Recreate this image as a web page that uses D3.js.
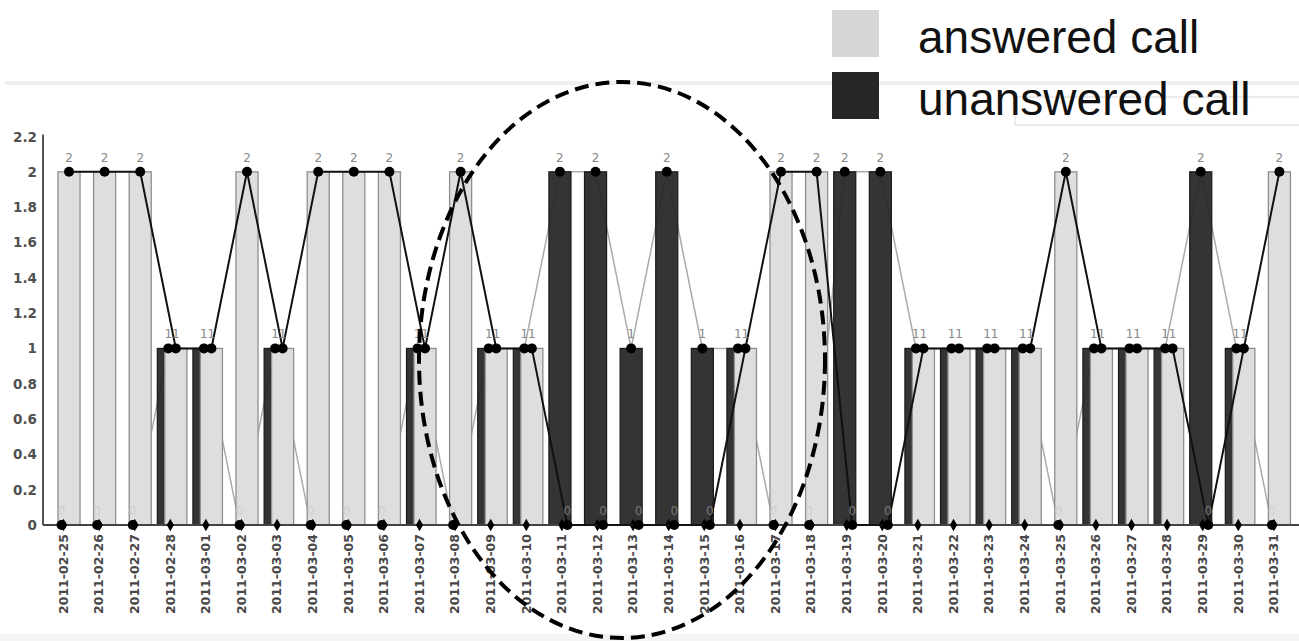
<!DOCTYPE html>
<html><head><meta charset="utf-8">
<script src="https://cdn.jsdelivr.net/npm/d3@7"></script>
<style>html,body{margin:0;padding:0;background:#fff;overflow:hidden}</style>
</head><body>
<svg id="chart" width="1299" height="641"></svg>
<script>
const dates = ["2011-02-25","2011-02-26","2011-02-27","2011-02-28","2011-03-01","2011-03-02","2011-03-03","2011-03-04","2011-03-05","2011-03-06","2011-03-07","2011-03-08","2011-03-09","2011-03-10","2011-03-11","2011-03-12","2011-03-13","2011-03-14","2011-03-15","2011-03-16","2011-03-17","2011-03-18","2011-03-19","2011-03-20","2011-03-21","2011-03-22","2011-03-23","2011-03-24","2011-03-25","2011-03-26","2011-03-27","2011-03-28","2011-03-29","2011-03-30","2011-03-31"];
const answered   = [2,2,2,1,1,2,1,2,2,2,1,2,1,1,0,0,0,0,0,1,2,2,0,0,1,1,1,1,2,1,1,1,0,1,2];
const unanswered = [0,0,0,1,1,0,1,0,0,0,1,0,1,1,2,2,1,2,1,1,0,0,2,2,1,1,1,1,0,1,1,1,2,1,0];
const yTicks = [0,0.2,0.4,0.6,0.8,1,1.2,1.4,1.6,1.8,2,2.2];
const yTickLabels = ["0","0.2","0.4","0.6","0.8","1","1.2","1.4","1.6","1.8","2","2.2"];
const legendLabels = ["answered call","unanswered call"];

const svg = d3.select("#chart");
const W = 1299, H = 641;

// background decorations
svg.append("rect").attr("x",5).attr("y",81).attr("width",W-5).attr("height",4).attr("fill","#efefef");
svg.append("rect").attr("x",0).attr("y",634).attr("width",W).attr("height",7).attr("fill","#f4f4f4");
svg.append("rect").attr("x",1015).attr("y",97).attr("width",300).attr("height",28)
   .attr("fill","none").attr("stroke","#e6e6e6").attr("stroke-width",1.5);

const x = d3.scaleBand().domain(dates).range([45.7, 45.7 + 35.6*dates.length]).paddingInner(0).paddingOuter(0);
const y = d3.scaleLinear().domain([0, 2.2]).range([525, 136.5]);
const bw = x.bandwidth();
const cx = d => x(d) + bw/2;
const barW = bw*0.62;
const offA = bw*0.155;
const offU = bw*0.365;
const dotA = d => cx(d) - offA + barW/2;
const dotU = d => cx(d) - offU + barW/2;

const rows = dates.map((d,i)=>({date:d, a:answered[i], u:unanswered[i]}));

// y axis labels
svg.append("g").selectAll("text").data(yTicks).join("text")
  .attr("x",37).attr("y",v=>y(v)+5).attr("text-anchor","end")
  .attr("font-family","DejaVu Sans").attr("font-weight","bold").attr("font-size",13.5)
  .attr("fill","#505050").text((v,i)=>yTickLabels[i]);
svg.append("line").attr("x1",43).attr("x2",43).attr("y1",y(2.2)-2).attr("y2",y(0))
  .attr("stroke","#555").attr("stroke-width",2);

// unanswered line (beneath bars)
const lineU = d3.line().x(r=>dotU(r.date)).y(r=>y(r.u));
svg.append("path").datum(rows).attr("d",lineU).attr("fill","none")
  .attr("stroke","#ababab").attr("stroke-width",1.5);

// unanswered bars
svg.append("g").selectAll("rect").data(rows.filter(r=>r.u>0)).join("rect")
  .attr("x",r=>cx(r.date)-offU).attr("width",barW)
  .attr("y",r=>y(r.u)).attr("height",r=>y(0)-y(r.u))
  .attr("fill","#252525").attr("fill-opacity",0.93)
  .attr("stroke","#1a1a1a").attr("stroke-width",1.2);

// answered bars
svg.append("g").selectAll("rect").data(rows.filter(r=>r.a>0)).join("rect")
  .attr("x",r=>cx(r.date)-offA).attr("width",barW)
  .attr("y",r=>y(r.a)).attr("height",r=>y(0)-y(r.a))
  .attr("fill","#dedede")
  .attr("stroke","#8f8f8f").attr("stroke-width",1.3);

// x axis
svg.append("line").attr("x1",43).attr("x2",W).attr("y1",y(0)).attr("y2",y(0))
  .attr("stroke","#444").attr("stroke-width",2);
const xAxis = d3.axisBottom(x).tickSize(0).tickPadding(0);
const gx = svg.append("g").attr("transform",`translate(0,${y(0)})`).call(xAxis);
gx.select(".domain").remove();
gx.selectAll(".tick text")
  .attr("transform","rotate(-90)").attr("x",-9).attr("y",0).attr("dy","0.35em")
  .attr("text-anchor","end").attr("font-family","DejaVu Sans").attr("font-weight","bold")
  .attr("font-size",12.5).attr("fill","#484848");
gx.selectAll(".tick").append("path").attr("d",d3.symbol(d3.symbolDiamond,45)).attr("fill","#000");

// answered line
const lineA = d3.line().x(r=>dotA(r.date)).y(r=>y(r.a));
svg.append("path").datum(rows).attr("d",lineA).attr("fill","none")
  .attr("stroke","#111").attr("stroke-width",2);

// dots
svg.append("g").selectAll("circle").data(rows).join("circle")
  .attr("cx",r=>dotU(r.date)).attr("cy",r=>y(r.u)).attr("r",5).attr("fill","#000");
svg.append("g").selectAll("circle").data(rows).join("circle")
  .attr("cx",r=>dotA(r.date)).attr("cy",r=>y(r.a)).attr("r",5).attr("fill","#000");

// value labels
const lab = svg.append("g").attr("font-family","DejaVu Sans").attr("font-size",12).attr("text-anchor","middle");
lab.selectAll("text.u").data(rows).join("text").attr("class","u")
  .attr("x",r=>dotU(r.date)).attr("y",r=>y(r.u)-10)
  .attr("fill",r=>r.u===0?"#cfcfcf":"#888").text(r=>r.u);
lab.selectAll("text.a").data(rows).join("text").attr("class","a")
  .attr("x",r=>dotA(r.date)).attr("y",r=>y(r.a)-10)
  .attr("fill",r=>r.a===0?"#7a7a7a":"#888").text(r=>r.a);

// legend
const leg = svg.append("g");
const legColors = ["#d6d6d6","#262626"];
legendLabels.forEach((t,i)=>{
  leg.append("rect").attr("x",832).attr("y",10+i*62).attr("width",47).attr("height",47).attr("fill",legColors[i]);
  leg.append("text").attr("x",918).attr("y",53+i*62).attr("font-family","Liberation Sans, Arial")
    .attr("font-size",46).attr("fill","#111").text(t);
});

// dashed ellipse annotation
svg.append("ellipse").attr("cx",622).attr("cy",360).attr("rx",203).attr("ry",278)
  .attr("fill","none").attr("stroke","#000").attr("stroke-width",4).attr("stroke-dasharray","14,7");
</script>
</body></html>
